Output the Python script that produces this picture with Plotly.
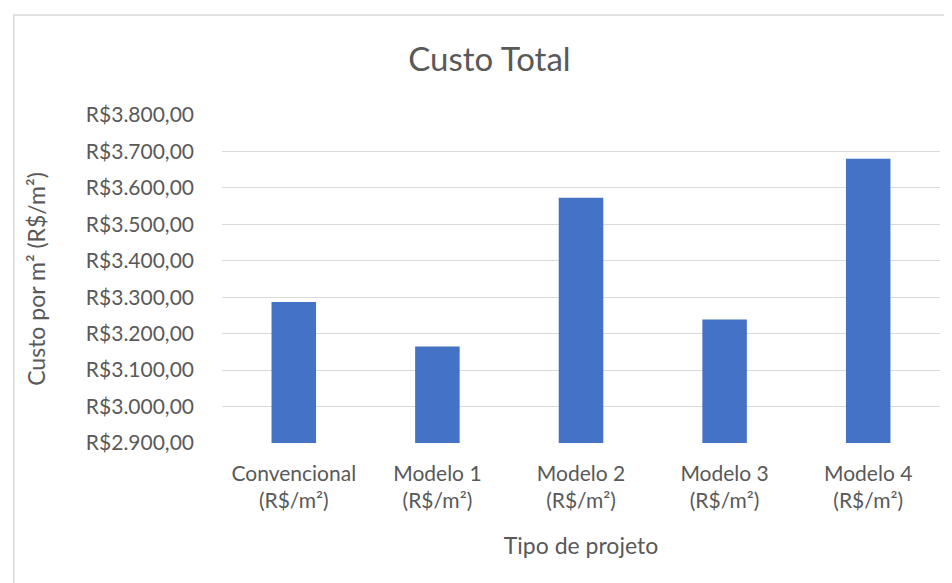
import plotly.graph_objects as go

# Custo total por tipo de projeto (R$/m²)
categorias = ["Convencional", "Modelo 1", "Modelo 2", "Modelo 3", "Modelo 4"]
rotulos_x = [c + "<br>(R$/m²)" for c in categorias]
custo = [3287, 3165, 3573, 3239, 3680]
ticks_y = [2900, 3000, 3100, 3200, 3300, 3400, 3500, 3600, 3700, 3800]


def reais(v):
    # formato brasileiro: R$3.800,00
    return "R$" + f"{v:,.2f}".replace(",", "X").replace(".", ",").replace("X", ".")


rotulos_y = [reais(v) for v in ticks_y]

cinza = "#595959"
fonte = "Lato, Open Sans, sans-serif"

fig = go.Figure(
    go.Bar(
        x=rotulos_x,
        y=custo,
        marker_color="#4472C4",
        marker_line_width=0,
        width=0.31,
    )
)

# a página tem margem de 8px no body, por isso 944x575
fig.update_layout(
    width=944,
    height=575,
    paper_bgcolor="white",
    plot_bgcolor="white",
    margin=dict(l=214, r=12, t=107, b=140),
    font=dict(family=fonte, color=cinza, size=21),
    title=dict(
        text="Custo Total",
        x=0.51, xanchor="center",
        xref="container",
        y=0.91, yanchor="middle",
        font=dict(size=33, color=cinza),
    ),
    showlegend=False,
    shapes=[
        dict(
            type="rect", xref="paper", yref="paper",
            x0=-0.29, x1=1.1, y0=-0.5, y1=1.305,
            line=dict(color="#d9d9d9", width=1.5),
            fillcolor="rgba(0,0,0,0)", layer="below",
        )
    ],
)

fig.update_yaxes(
    range=[2900, 3800],
    tickvals=ticks_y,
    ticktext=rotulos_y,
    showgrid=True,
    gridcolor="#d9d9d9",
    gridwidth=1.3,
    zeroline=False,
    showline=False,
    ticks="",
    ticklabelstandoff=27,
    tickfont=dict(size=21),
    title=dict(text="Custo por m² (R$/m²)", font=dict(size=23, color=cinza), standoff=33),
)

fig.update_xaxes(
    showgrid=False,
    showline=False,
    ticks="",
    ticklabelstandoff=16,
    tickfont=dict(size=21),
    title=dict(text="Tipo de projeto", font=dict(size=23, color=cinza), standoff=26),
)

fig.write_html("out.html")
